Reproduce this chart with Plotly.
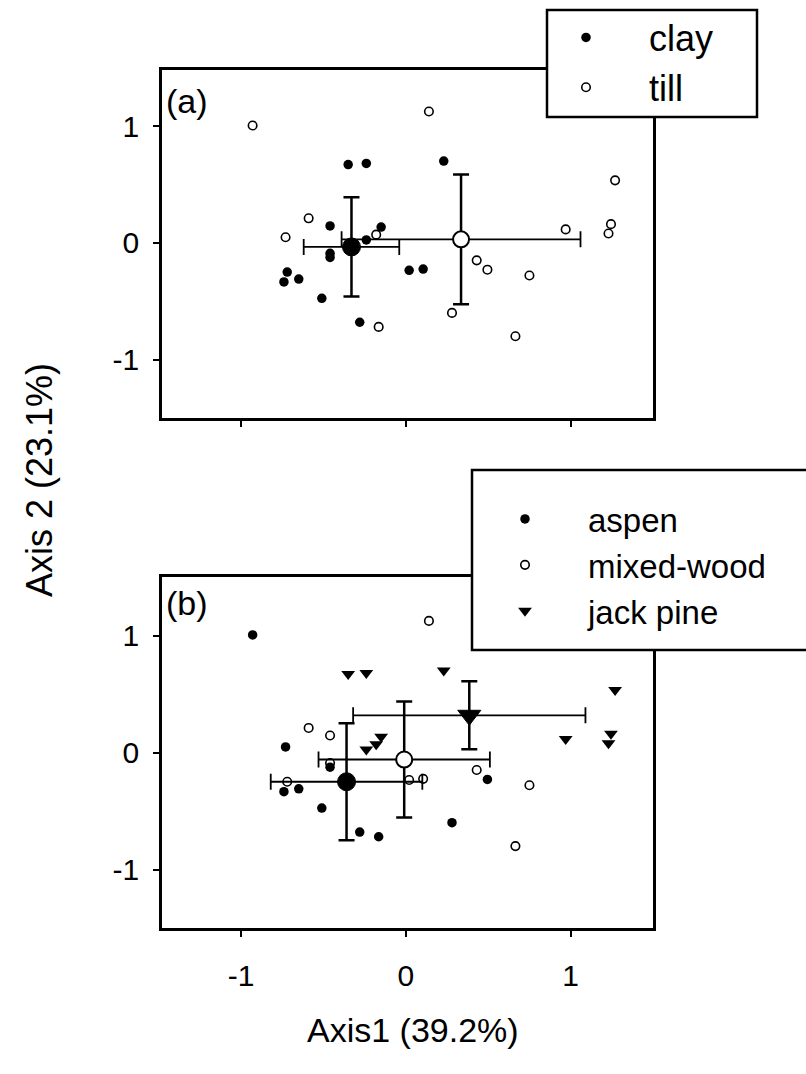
import plotly.graph_objects as go

# ---- site scores (same 30 sites in both panels) ----
site_x = [-0.35, -0.24, -0.46, -0.15, -0.24, -0.46, -0.46, -0.72, -0.74, -0.65,
          -0.51, -0.28, 0.02, 0.105, 0.23,
          -0.93, -0.59, -0.18, -0.73, -0.165, 0.14, 0.97, 1.27, 1.245, 1.23,
          0.43, 0.495, 0.75, 0.28, 0.665]
site_y = [0.67, 0.68, 0.145, 0.135, 0.025, -0.09, -0.125, -0.25, -0.335, -0.31,
          -0.475, -0.68, -0.235, -0.225, 0.70,
          1.005, 0.21, 0.07, 0.048, -0.72, 1.125, 0.115, 0.535, 0.16, 0.08,
          -0.15, -0.23, -0.28, -0.60, -0.80]
site_soil = ["clay"] * 15 + ["till"] * 15
site_stand = ["jack pine", "jack pine", "mixed-wood", "jack pine", "jack pine",
              "mixed-wood", "aspen", "mixed-wood", "aspen", "aspen",
              "aspen", "aspen", "mixed-wood", "mixed-wood", "jack pine",
              "aspen", "mixed-wood", "jack pine", "aspen", "aspen",
              "mixed-wood", "jack pine", "jack pine", "jack pine", "jack pine",
              "mixed-wood", "aspen", "mixed-wood", "aspen", "mixed-wood"]

# ---- group means and error bars ----
soil_groups = ["clay", "till"]
soil_mean_x = [-0.33, 0.335]
soil_mean_y = [-0.035, 0.03]
soil_err_x = [0.29, 0.725]
soil_err_y = [0.425, 0.555]

stand_groups = ["aspen", "mixed-wood", "jack pine"]
stand_mean_x = [-0.36, -0.01, 0.385]
stand_mean_y = [-0.25, -0.06, 0.318]
stand_err_x = [0.46, 0.52, 0.705]
stand_err_y = [0.50, 0.495, 0.29]

tick_vals = [-1, 0, 1]
tick_text = ["-1", "0", "1"]

FONT = "Liberation Sans, Arial, sans-serif"
W, H = 806, 1074

small_style = {
    "clay": dict(symbol="circle", size=9.5, color="black", line=dict(color="black", width=0)),
    "till": dict(symbol="circle-open", size=8.5, color="black", line=dict(color="black", width=1.6)),
    "aspen": dict(symbol="circle", size=9.5, color="black", line=dict(color="black", width=0)),
    "mixed-wood": dict(symbol="circle-open", size=8.5, color="black", line=dict(color="black", width=1.6)),
    "jack pine": dict(symbol="triangle-down", size=12, color="black", line=dict(color="black", width=0)),
}
big_style = {
    "clay": dict(symbol="circle", size=18, color="black", line=dict(color="black", width=1)),
    "till": dict(symbol="circle", size=16, color="white", line=dict(color="black", width=2)),
    "aspen": dict(symbol="circle", size=18, color="black", line=dict(color="black", width=1)),
    "mixed-wood": dict(symbol="circle", size=16, color="white", line=dict(color="black", width=2)),
    "jack pine": dict(symbol="triangle-down", size=20, color="black", line=dict(color="black", width=1)),
}

fig = go.Figure()

# ---- panel (a): soil ----
for g in soil_groups:
    xs = [x for x, s in zip(site_x, site_soil) if s == g]
    ys = [y for y, s in zip(site_y, site_soil) if s == g]
    fig.add_trace(go.Scatter(x=xs, y=ys, mode="markers", name=g, marker=small_style[g],
                             xaxis="x", yaxis="y", legend="legend"))
for i, g in enumerate(soil_groups):
    fig.add_trace(go.Scatter(
        x=[soil_mean_x[i]], y=[soil_mean_y[i]], mode="markers", showlegend=False,
        marker=big_style[g], xaxis="x", yaxis="y",
        error_x=dict(type="data", array=[soil_err_x[i]], color="black", thickness=1.8, width=8),
        error_y=dict(type="data", array=[soil_err_y[i]], color="black", thickness=2.5, width=8)))

# ---- panel (b): stand type ----
for g in stand_groups:
    xs = [x for x, s in zip(site_x, site_stand) if s == g]
    ys = [y for y, s in zip(site_y, site_stand) if s == g]
    fig.add_trace(go.Scatter(x=xs, y=ys, mode="markers", name=g, marker=small_style[g],
                             xaxis="x2", yaxis="y2", legend="legend2"))
for i, g in enumerate(stand_groups):
    fig.add_trace(go.Scatter(
        x=[stand_mean_x[i]], y=[stand_mean_y[i]], mode="markers", showlegend=False,
        marker=big_style[g], xaxis="x2", yaxis="y2",
        error_x=dict(type="data", array=[stand_err_x[i]], color="black", thickness=1.8, width=8),
        error_y=dict(type="data", array=[stand_err_y[i]], color="black", thickness=2.5, width=8)))

axis_common = dict(showgrid=False, zeroline=False, showline=True, linecolor="black",
                   linewidth=2.5, mirror=True, ticks="outside", ticklen=6, tickwidth=2,
                   tickcolor="black", tickvals=tick_vals, ticktext=tick_text,
                   tickfont=dict(family=FONT, size=30, color="black"))

dom_x = [162 / W, 653 / W]
legend_common = dict(xanchor="left", yanchor="top", bgcolor="rgba(0,0,0,0)", borderwidth=0,
                     itemwidth=116)
fig.update_layout(
    width=W, height=H, margin=dict(l=0, r=0, t=0, b=0),
    paper_bgcolor="white", plot_bgcolor="white",
    font=dict(family=FONT, color="black"),
    xaxis=dict(axis_common, domain=dom_x, range=[-1.48, 1.5], anchor="y", showticklabels=False),
    yaxis=dict(axis_common, domain=[1 - 418 / H, 1 - 70 / H], range=[-1.5, 1.48], anchor="x",
               ticklabelstandoff=8),
    xaxis2=dict(axis_common, domain=dom_x, range=[-1.48, 1.5], anchor="y2", ticklabelstandoff=13),
    yaxis2=dict(axis_common, domain=[1 - 928 / H, 1 - 577 / H], range=[-1.5, 1.5], anchor="x2",
                ticklabelstandoff=8),
    legend=dict(legend_common, x=523 / W, y=1 - 7.5 / H,
                font=dict(family=FONT, size=36, color="black")),
    legend2=dict(legend_common, x=462 / W, y=1 - 491 / H,
                 font=dict(family=FONT, size=33, color="black")),
    shapes=[
        dict(type="rect", xref="paper", yref="paper", x0=547 / W, x1=757 / W,
             y0=1 - 117 / H, y1=1 - 10 / H, line=dict(color="black", width=2.5),
             fillcolor="white", layer="above"),
        dict(type="rect", xref="paper", yref="paper", x0=472 / W, x1=1.05,
             y0=1 - 650 / H, y1=1 - 470 / H, line=dict(color="black", width=2.5),
             fillcolor="white", layer="above"),
    ],
    annotations=[
        dict(text="(a)", xref="x domain", yref="y domain", x=0.005, y=0.97,
             xanchor="left", yanchor="top", showarrow=False, font=dict(family=FONT, size=34)),
        dict(text="(b)", xref="x2 domain", yref="y2 domain", x=0.005, y=0.985,
             xanchor="left", yanchor="top", showarrow=False, font=dict(family=FONT, size=34)),
        dict(text="Axis1 (39.2%)", xref="paper", yref="paper", x=413 / W, y=1 - 1030 / H,
             xanchor="center", yanchor="middle", showarrow=False, font=dict(family=FONT, size=34)),
        dict(text="Axis 2 (23.1%)", xref="paper", yref="paper", x=40 / W, y=1 - 480 / H,
             xanchor="center", yanchor="middle", textangle=-90, showarrow=False,
             font=dict(family=FONT, size=36)),
    ],
)

fig.write_html("out.html", config={"displayModeBar": False},
               post_script="document.body.style.margin='0';document.body.style.overflow='hidden';")
